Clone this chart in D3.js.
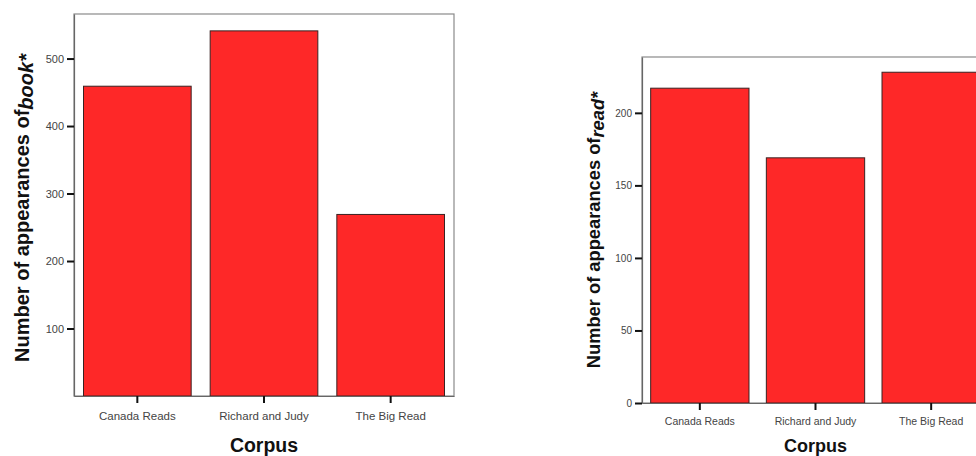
<!DOCTYPE html>
<html><head><meta charset="utf-8">
<script src="https://cdn.jsdelivr.net/npm/d3@7"></script>
<style>
html,body{margin:0;padding:0;background:#fff;}
svg{display:block;}
text{font-family:"Liberation Sans", Arial, sans-serif;}
</style></head>
<body>
<svg id="chart" width="976" height="456"></svg>
<script>
const categories = ["Canada Reads", "Richard and Judy", "The Big Read"];
const bookCounts = [459, 541, 269];
const readCounts = [217, 169, 228];
const bookTicks = [100, 200, 300, 400, 500];
const readTicks = [0, 50, 100, 150, 200];
const xTitle = "Corpus";
const yTitlePrefix = "Number of appearances of";

const svg = d3.select("#chart");

function drawChart(cfg) {
  const g = svg.append("g");
  const {left, right, top, bottom} = cfg;
  const x = d3.scaleBand().domain(categories).range([left, right])
    .paddingInner(0.15).paddingOuter(0.075);
  const y = d3.scaleLinear().domain([0, cfg.yMax]).range([bottom, top]);

  // frame
  g.append("rect").attr("x", left).attr("y", top)
    .attr("width", right - left).attr("height", bottom - top)
    .attr("fill", "#fff").attr("stroke", "#8a8a8a").attr("stroke-width", 1.2);

  // bars
  g.selectAll("rect.bar").data(cfg.values).join("rect")
    .attr("class", "bar")
    .attr("x", (d, i) => x(categories[i]))
    .attr("y", d => y(d))
    .attr("width", x.bandwidth())
    .attr("height", d => y(0) - y(d))
    .attr("fill", "#fe2828")
    .attr("stroke", "#3a2222").attr("stroke-width", 1);

  // y axis
  const ya = g.append("g").attr("transform", `translate(${left},0)`)
    .call(d3.axisLeft(y).tickValues(cfg.ticks).tickSize(7).tickSizeOuter(0).tickPadding(3));
  ya.select(".domain").attr("stroke", "#666").attr("stroke-width", 1.2);
  ya.selectAll(".tick line").attr("stroke", "#111").attr("stroke-width", 2);
  ya.selectAll(".tick text").attr("fill", "#444").attr("font-size", cfg.tickFont)
    .attr("font-family", "Liberation Sans, Arial, sans-serif");

  // x axis
  const xa = g.append("g").attr("transform", `translate(0,${bottom})`)
    .call(d3.axisBottom(x).tickSize(7).tickSizeOuter(0).tickPadding(cfg.xPad));
  xa.select(".domain").attr("stroke", "#666").attr("stroke-width", 1.2);
  xa.selectAll(".tick line").attr("stroke", "#111").attr("stroke-width", 2);
  xa.selectAll(".tick text").attr("fill", "#444").attr("font-size", cfg.xTickFont)
    .attr("font-family", "Liberation Sans, Arial, sans-serif");

  // x title
  g.append("text").attr("x", (left + right) / 2).attr("y", cfg.xTitleY)
    .attr("text-anchor", "middle").attr("font-weight", "bold")
    .attr("font-size", cfg.xTitleFont).attr("fill", "#111").text(xTitle);

  // y title
  const yt = g.append("text")
    .attr("transform", `translate(${cfg.yTitleX},${cfg.yTitleY}) rotate(-90)`)
    .attr("text-anchor", "middle").attr("font-weight", "bold")
    .attr("font-size", cfg.titleFont).attr("fill", "#111");
  yt.append("tspan").text(yTitlePrefix);
  yt.append("tspan").attr("font-style", "italic").attr("dy", 4).text(cfg.word + "*");
}

drawChart({
  left: 74, right: 454, top: 14, bottom: 396,
  yMax: 566, values: bookCounts, ticks: bookTicks,
  tickFont: 11, xTickFont: 11.5, xPad: 9,
  titleFont: 20, xTitleFont: 19.5, xTitleY: 452, yTitleX: 29, yTitleY: 208, word: "book"
});

drawChart({
  left: 642, right: 989, top: 57, bottom: 403,
  yMax: 238.5, values: readCounts, ticks: readTicks,
  tickFont: 10, xTickFont: 10.5, xPad: 8,
  titleFont: 18.3, xTitleFont: 18, xTitleY: 452, yTitleX: 600, yTitleY: 230, word: "read"
});
</script>
</body></html>
